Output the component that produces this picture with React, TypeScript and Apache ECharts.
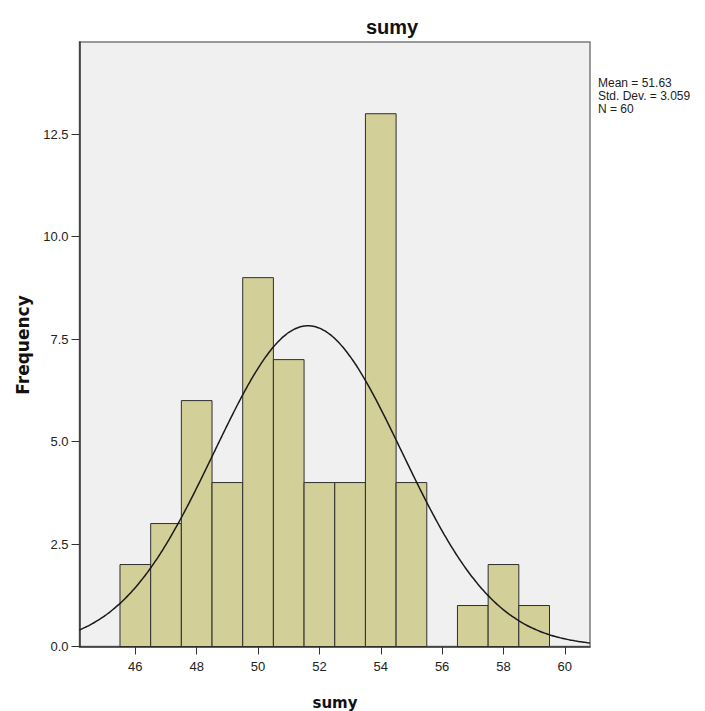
import React, { useEffect, useRef } from "react";
import * as echarts from "echarts";

// Histogram bins (bin centres) and frequencies
const binCenters = [46, 47, 48, 49, 50, 51, 52, 53, 54, 55, 56, 57, 58, 59];
const frequencies = [2, 3, 6, 4, 9, 7, 4, 4, 13, 4, 0, 1, 2, 1];
const xTicks = [46, 48, 50, 52, 54, 56, 58, 60];
const yTicks = [0, 2.5, 5, 7.5, 10, 12.5];
const MEAN = 51.63;
const SD = 3.059;
const N = 60;
const BIN_WIDTH = 1;
const X_MIN = 44.18;
const X_MAX = 60.82;
const Y_MAX = 14.75;
const statsLines = ["Mean = 51.63", "Std. Dev. = 3.059", "N = 60"];

function normalCurve(): number[][] {
  const pts: number[][] = [];
  const steps = 200;
  for (let i = 0; i <= steps; i++) {
    const x = X_MIN + ((X_MAX - X_MIN) * i) / steps;
    const z = (x - MEAN) / SD;
    const y = (N * BIN_WIDTH) / (SD * Math.sqrt(2 * Math.PI)) * Math.exp(-0.5 * z * z);
    pts.push([x, y]);
  }
  return pts;
}

export default function App() {
  const ref = useRef<HTMLDivElement>(null);
  useEffect(() => {
    if (!ref.current) return;
    const chart = echarts.init(ref.current, undefined, { renderer: "svg" });
    const labelFont = "'Liberation Sans', Arial, sans-serif";
    chart.setOption({
      animation: false,
      backgroundColor: "#ffffff",
      grid: {
        left: 79.5,
        right: 115,
        top: 42,
        bottom: 64.5,
        show: true,
        backgroundColor: "#f0f0f0",
        borderColor: "#7a7a7a",
        borderWidth: 1.5,
      },
      xAxis: {
        type: "value",
        min: X_MIN,
        max: X_MAX,
        axisLine: { show: true, lineStyle: { color: "#333333", width: 1.5 } },
        axisTick: {
          show: true,
          length: 8,
          customValues: xTicks,
          lineStyle: { color: "#333333", width: 1 },
        },
        axisLabel: {
          customValues: xTicks,
          color: "#222222",
          fontFamily: labelFont,
          fontSize: 13,
          margin: 13,
        },
        splitLine: { show: false },
      },
      yAxis: {
        type: "value",
        min: 0,
        max: Y_MAX,
        axisLine: { show: true, lineStyle: { color: "#333333", width: 1.5 } },
        axisTick: {
          show: true,
          length: 8,
          customValues: yTicks,
          lineStyle: { color: "#333333", width: 1 },
        },
        axisLabel: {
          customValues: yTicks,
          color: "#222222",
          fontFamily: labelFont,
          fontSize: 13,
          margin: 11,
          formatter: (v: number) => v.toFixed(1),
        },
        splitLine: { show: false },
      },
      series: [
        {
          type: "custom",
          data: binCenters.map((c, i) => [c, frequencies[i]]),
          renderItem: (params: any, api: any) => {
            const c = api.value(0);
            const f = api.value(1);
            if (!f) return null;
            const p1 = api.coord([c - BIN_WIDTH / 2, f]);
            const p2 = api.coord([c + BIN_WIDTH / 2, 0]);
            return {
              type: "rect",
              shape: { x: p1[0], y: p1[1], width: p2[0] - p1[0], height: p2[1] - p1[1] },
              style: { fill: "#d3cf98", stroke: "#2e2e2e", lineWidth: 1 },
            };
          },
          z: 2,
        },
        {
          type: "line",
          data: normalCurve(),
          showSymbol: false,
          smooth: true,
          lineStyle: { color: "#1a1a1a", width: 1.5 },
          z: 3,
        },
      ],
      graphic: [
        {
          type: "text",
          x: 392,
          y: 27,
          style: {
            text: "sumy",
            font: "bold 20px 'Liberation Sans', Arial, sans-serif",
            fill: "#111111",
            align: "center",
            verticalAlign: "middle",
          },
        },
        {
          type: "text",
          x: 335,
          y: 703,
          style: {
            text: "sumy",
            font: "bold 15px 'DejaVu Sans', sans-serif",
            fill: "#111111",
            align: "center",
            verticalAlign: "middle",
          },
        },
        {
          type: "text",
          x: 23,
          y: 345,
          rotation: Math.PI / 2,
          style: {
            text: "Frequency",
            font: "bold 17px 'DejaVu Sans', sans-serif",
            fill: "#111111",
            align: "center",
            verticalAlign: "middle",
          },
        },
        ...statsLines.map((t, i) => ({
          type: "text",
          x: 598,
          y: 83 + i * 13,
          style: {
            text: t,
            font: "12px 'Liberation Sans', Arial, sans-serif",
            fill: "#222222",
            align: "left",
            verticalAlign: "middle",
          },
        })),
      ],
    });
    return () => chart.dispose();
  }, []);
  return (
    <div
      ref={ref}
      style={{ position: "fixed", left: 0, top: 0, width: 705, height: 711 }}
    />
  );
}
